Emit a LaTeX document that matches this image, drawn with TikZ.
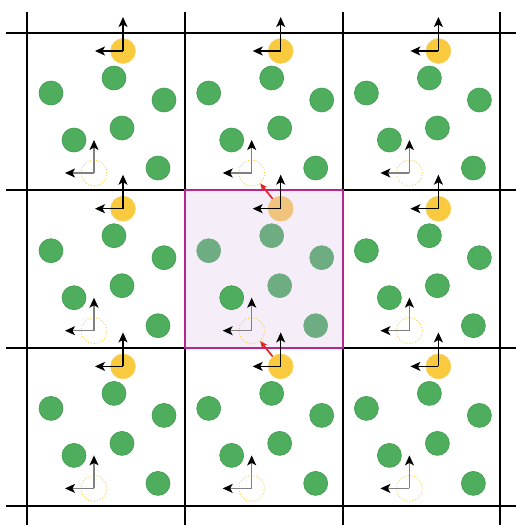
\documentclass[tikz,border=0pt]{standalone}
\usepackage{tikz}
\usetikzlibrary{arrows.meta,positioning}
\definecolor{Leaf}{HTML}{4FAE5E}
\definecolor{LeafEdge}{HTML}{3E9A4D}
\definecolor{LeafFade}{HTML}{6EAC82}
\definecolor{Gold}{HTML}{F9C93E}
\definecolor{GoldEdge}{HTML}{F7D66E}
\definecolor{GoldFade}{HTML}{F1C47E}
\definecolor{Lilac}{HTML}{F5EEF8}
\definecolor{Plum}{HTML}{B3288F}
\definecolor{Shift}{HTML}{E0242A}

\begin{document}
\begin{tikzpicture}[x=1pt,y=-1pt,
  cellline/.style={line width=1.7pt,black},
  atom0/.style={circle,minimum size=24pt,inner sep=0pt,fill=Leaf,draw=LeafEdge,line width=0.6pt},
  atom1/.style={atom0,fill=LeafFade,draw=LeafFade},
  sun0/.style={circle,minimum size=25pt,inner sep=0pt,fill=Gold,draw=GoldEdge,line width=0.6pt},
  sun1/.style={sun0,fill=GoldFade,draw=GoldFade},
  ghost/.style={circle,minimum size=26pt,inner sep=0pt,draw=Gold,dotted,line width=0.9pt},
  vec/.style={-{Stealth[length=10pt,width=9pt,inset=2.5pt,color=black]},line width=1.2pt},
  ghostvec/.style={vec,draw=gray},
  hop/.style={-{Stealth[length=7pt,width=6pt,inset=1.5pt]},line width=1.7pt,draw=Shift}]
\useasboundingbox (0,0) rectangle (516,525);
% lattice of periodic images
\foreach \v in {27,185,343,500} \draw[cellline] (\v,12) -- (\v,525);
\foreach \h in {33,190,348,506} \draw[cellline] (6,\h) -- (516,\h);
% central simulation box
\draw[fill=Lilac,draw=Plum,line width=1.5pt] (185,190) rectangle (343,348);
\foreach \i in {0,1,2}{
  \foreach \j in {0,1,2}{
    \pgfmathtruncatemacro\fade{and(\i==1,\j==1)}
    \begin{scope}[shift={(27+157.7*\i,33+157.7*\j)}]
      \foreach \gx/\gy [count=\k] in {87/45,24/60,137/67,95/95,47/107,131/135}{
        \pgfmathtruncatemacro\f{\fade*(\k!=5)}
        \node[atom\f] (g\i\j\k) at (\gx,\gy) {};
      }
      \node[ghost] (h\i\j) at (67,140) {};
      \coordinate (hu\i\j) at (67,107);
      \coordinate (hl\i\j) at (38,140);
      \node[sun\fade] (y\i\j) at (96,18) {};
      \coordinate (yu\i\j) at (96,-16);
      \coordinate (yl\i\j) at (68,18);
      \draw[ghostvec] (h\i\j.center) -- (hu\i\j);
      \draw[ghostvec] (h\i\j.center) -- (hl\i\j);
      \draw[vec] (y\i\j.center) -- (yu\i\j);
      \draw[vec] (y\i\j.center) -- (yl\i\j);
    \end{scope}
  }
}
% crossing the box boundary
\draw[hop] (y11) -- (h10);
\draw[hop] (y12) -- (h11);
\end{tikzpicture}
\end{document}
